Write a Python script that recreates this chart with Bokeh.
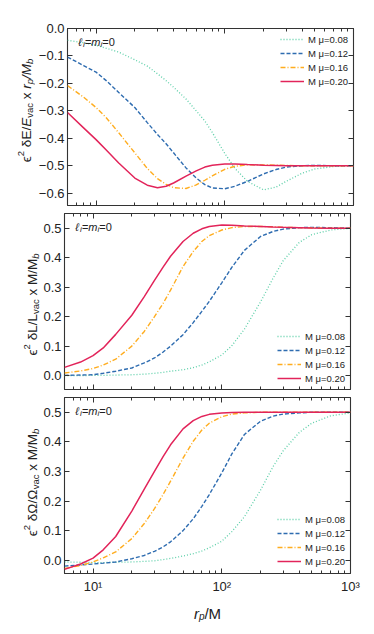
from math import pi
from bokeh.plotting import figure
from bokeh.models import (Label, Legend, LegendItem, LogAxis, LinearAxis, FixedTicker,
                          CustomJSTickFormatter, Range1d, Spacer)
from bokeh.layouts import column, row
from bokeh.embed import file_html
from bokeh.resources import INLINE

# ---------------- data ----------------
r_p = [6, 8, 10, 12, 15, 20, 25, 30, 35, 40, 50, 60, 70, 80, 100, 120, 150, 200, 250, 300, 400, 500, 700, 1000]
mu_labels = ["M \u03bc=0.08", "M \u03bc=0.12", "M \u03bc=0.16", "M \u03bc=0.20"]

dE_008 = [-0.043, -0.052, -0.061, -0.072, -0.086, -0.114, -0.137, -0.165, -0.19, -0.214, -0.257, -0.300, -0.337, -0.379, -0.455, -0.510, -0.557, -0.588, -0.578, -0.557, -0.527, -0.512, -0.503, -0.500]
dE_012 = [-0.104, -0.135, -0.159, -0.19, -0.233, -0.288, -0.343, -0.386, -0.420, -0.453, -0.508, -0.545, -0.569, -0.581, -0.584, -0.575, -0.557, -0.530, -0.514, -0.505, -0.500, -0.499, -0.500, -0.500]
dE_016 = [-0.208, -0.250, -0.288, -0.325, -0.380, -0.453, -0.510, -0.547, -0.568, -0.580, -0.583, -0.570, -0.553, -0.537, -0.513, -0.502, -0.497, -0.497, -0.498, -0.499, -0.500, -0.500, -0.500, -0.500]
dE_020 = [-0.306, -0.362, -0.405, -0.443, -0.490, -0.545, -0.571, -0.580, -0.575, -0.563, -0.538, -0.519, -0.505, -0.498, -0.494, -0.494, -0.496, -0.498, -0.499, -0.500, -0.500, -0.500, -0.500, -0.500]

dL_008 = [0.0, 0.0, 0.001, 0.001, 0.002, 0.003, 0.005, 0.008, 0.011, 0.015, 0.020, 0.027, 0.036, 0.047, 0.070, 0.102, 0.158, 0.250, 0.330, 0.390, 0.452, 0.478, 0.494, 0.500]
dL_012 = [0.001, 0.002, 0.003, 0.008, 0.015, 0.026, 0.043, 0.060, 0.080, 0.100, 0.139, 0.180, 0.218, 0.252, 0.315, 0.368, 0.425, 0.472, 0.489, 0.497, 0.502, 0.503, 0.502, 0.500]
dL_016 = [0.009, 0.016, 0.024, 0.036, 0.056, 0.100, 0.150, 0.200, 0.245, 0.290, 0.370, 0.421, 0.455, 0.475, 0.494, 0.502, 0.506, 0.506, 0.505, 0.503, 0.502, 0.501, 0.500, 0.500]
dL_020 = [0.028, 0.046, 0.068, 0.094, 0.140, 0.205, 0.268, 0.323, 0.368, 0.405, 0.455, 0.483, 0.498, 0.506, 0.511, 0.510, 0.508, 0.506, 0.504, 0.503, 0.502, 0.501, 0.500, 0.500]

dW_008 = [-0.006, -0.007, -0.008, -0.008, -0.007, -0.006, -0.004, -0.002, 0.002, 0.006, 0.014, 0.022, 0.031, 0.042, 0.064, 0.097, 0.147, 0.237, 0.316, 0.370, 0.432, 0.463, 0.488, 0.498]
dW_012 = [-0.020, -0.016, -0.013, -0.010, -0.006, 0.005, 0.016, 0.030, 0.045, 0.062, 0.100, 0.140, 0.182, 0.222, 0.295, 0.360, 0.425, 0.470, 0.487, 0.494, 0.498, 0.500, 0.500, 0.500]
dW_016 = [-0.028, -0.018, -0.006, 0.008, 0.028, 0.073, 0.124, 0.174, 0.222, 0.267, 0.345, 0.402, 0.440, 0.463, 0.485, 0.494, 0.498, 0.500, 0.500, 0.500, 0.500, 0.500, 0.500, 0.500]
dW_020 = [-0.031, -0.013, 0.007, 0.035, 0.080, 0.166, 0.240, 0.300, 0.350, 0.390, 0.444, 0.472, 0.486, 0.493, 0.498, 0.499, 0.500, 0.500, 0.500, 0.500, 0.500, 0.500, 0.500, 0.500]

x_major_ticks = [10, 100, 1000]
x_minor_ticks = [6, 7, 8, 9, 20, 30, 40, 50, 60, 70, 80, 90, 200, 300, 400, 500, 600, 700, 800, 900]
x_tick_labels = {10: "10\u00b9", 100: "10\u00b2", 1000: "10\u00b3"}
yticks_E = [0.0, -0.1, -0.2, -0.3, -0.4, -0.5, -0.6]
yticks_L = [0.0, 0.1, 0.2, 0.3, 0.4, 0.5]
yticks_W = [0.0, 0.1, 0.2, 0.3, 0.4, 0.5]

# ---------------- styling ----------------
FONT = "Liberation Sans"
COLORS = ["#5ccfa8", "#2e6cb0", "#ffad1f", "#e2245a"]
DASHES = ["1 2", "4 2", "5 2 1 2", "solid"]
WIDTHS = [1.3, 1.4, 1.4, 1.5]
FW = 286
AXC = "#333333"
TXT = "#222222"

EM = {' ': 0.278, 'x': 0.5, '/': 0.278, 'E': 0.667, 'L': 0.556, 'M': 0.833, 'r': 0.333,
      'p': 0.556, 'b': 0.556, 'v': 0.5, 'a': 0.556, 'c': 0.5, '2': 0.556, '0': 0.556,
      '=': 0.584, 'm': 0.833, 'i': 0.222, '\u03b4': 0.556, '\u03a9': 0.768, '\u03f5': 0.45,
      '\u2113': 0.42}


def tw(s, size):
    return sum(EM.get(c, 0.55) for c in s) * size


def lead(t):
    return t[:len(t) - len(t.lstrip())]


def add_vlabel(p, pieces, xb, yc):
    total = sum(tw(t, s) for t, s, st, dx in pieces)
    y = yc - total / 2
    for t, s, st, dx in pieces:
        p.add_layout(Label(x=xb + dx, y=y + tw(lead(t), s), x_units="screen", y_units="screen",
                           text=t.strip(), angle=pi / 2, text_font=FONT, text_font_size=f"{s}px",
                           text_font_style=st, text_align="left", text_baseline="alphabetic",
                           text_color=TXT))
        y += tw(t, s)


def add_hlabel(p, pieces, x0, yb, center=False):
    total = sum(tw(t, s) for t, s, st, dy in pieces)
    x = x0 - total / 2 if center else x0
    for t, s, st, dy in pieces:
        p.add_layout(Label(x=x + tw(lead(t), s), y=yb + dy, x_units="screen", y_units="screen",
                           text=t.strip(), text_font=FONT, text_font_size=f"{s}px",
                           text_font_style=st, text_align="left", text_baseline="alphabetic",
                           text_color=TXT))
        x += tw(t, s)


def style_axis(ax, show_labels):
    ax.axis_line_color = None
    ax.major_tick_in = 5
    ax.major_tick_out = 0
    ax.minor_tick_in = 3
    ax.minor_tick_out = 0
    ax.major_tick_line_color = AXC
    ax.minor_tick_line_color = AXC
    if show_labels:
        ax.major_label_text_font = FONT
        ax.major_label_text_font_size = "13px"
        ax.major_label_text_color = TXT
    else:
        ax.major_label_text_font_size = "1px"
        ax.major_label_text_alpha = 0
        ax.major_label_standoff = 0


yfmt = "return (tick < -1e-9 ? '\u2212' : '') + Math.abs(tick).toFixed(1);"


def blank(fw, fh, top_b=0, bot_b=0):
    b = figure(x_range=Range1d(0, 1), y_range=Range1d(0, 1), frame_width=fw, frame_height=fh,
               min_border_left=0, min_border_right=0, min_border_top=top_b, min_border_bottom=bot_b,
               x_axis_location=None, y_axis_location=None,
               output_backend="svg", toolbar_location=None)
    b.grid.visible = False
    b.outline_line_color = None
    return b


def make_panel(yr, yticks, series, fh, top_b, bot_b, left_b, xlabels, leg_loc):
    p = figure(x_axis_type="log", x_range=Range1d(6, 1000), y_range=Range1d(*yr),
               frame_width=FW, frame_height=fh, min_border_left=left_b, min_border_right=14,
               min_border_top=top_b, min_border_bottom=bot_b,
               output_backend="svg", toolbar_location=None)
    p.grid.visible = False
    p.outline_line_color = AXC
    p.outline_line_width = 1.1

    xa = p.xaxis[0]
    xa.ticker = FixedTicker(ticks=x_major_ticks, minor_ticks=x_minor_ticks)
    style_axis(xa, xlabels)
    if xlabels:
        xa.major_label_overrides = x_tick_labels
        xa.major_label_standoff = 5
    ya = p.yaxis[0]
    ya.ticker = FixedTicker(ticks=yticks)
    ya.formatter = CustomJSTickFormatter(code=yfmt)
    style_axis(ya, True)
    ya.major_label_standoff = 3

    top = LogAxis(ticker=FixedTicker(ticks=x_major_ticks, minor_ticks=x_minor_ticks))
    style_axis(top, False)
    p.add_layout(top, "above")
    right = LinearAxis(ticker=FixedTicker(ticks=yticks))
    style_axis(right, False)
    p.add_layout(right, "right")

    items = []
    for ys, lab, col, dash, w in zip(series, mu_labels, COLORS, DASHES, WIDTHS):
        r = p.line(r_p, ys, line_color=col, line_dash=dash, line_width=w)
        items.append(LegendItem(label=lab, renderers=[r]))
    leg = Legend(items=items, location=leg_loc, glyph_width=24, glyph_height=14,
                 label_height=14, label_standoff=4, spacing=0, padding=0, margin=0,
                 border_line_alpha=0, background_fill_alpha=0,
                 label_text_font=FONT, label_text_font_size="9.5px", label_text_color=TXT)
    p.add_layout(leg)

    add_hlabel(p, [("\u2113", 11, "italic", 0), ("i", 8, "italic", -3), ("=", 11, "normal", 0),
                   ("m", 11, "italic", 0), ("i", 8, "italic", -3), ("=0", 11, "normal", 0)],
               11, fh - 13)
    return p


p1 = make_panel((-0.645, 0.0), yticks_E, [dE_008, dE_012, dE_016, dE_020], 177, 28, 4, 29, False, (213, 117))
p2 = make_panel((-0.047, 0.55), yticks_L, [dL_008, dL_012, dL_016, dL_020], 176, 4, 4, 24, False, (213, 4))
p3 = make_panel((-0.045, 0.55), yticks_W, [dW_008, dW_012, dW_016, dW_020], 176, 4, 22, 24, True, (213, 5))

l1 = blank(35, 177, 28, 4)
l2 = blank(40, 176, 4, 4)
l3 = blank(40, 176, 4, 22)

S, s = 13.5, 9.5
add_vlabel(l1, [("\u03f5", S, "normal", 0), ("2", s, "normal", -6), (" \u03b4E/", S, "normal", 0),
                ("E", S, "italic", 0), ("vac", s, "normal", 3), (" x ", S, "normal", 0),
                ("r", S, "italic", 0), ("p", s, "italic", 3), ("/", S, "italic", 0),
                ("M", S, "italic", 0), ("b", s, "italic", 3)], 26, 95)
add_vlabel(l2, [("\u03f5", S, "normal", 0), ("2", s, "normal", -6), (" \u03b4L/L", S, "normal", 0),
                ("vac", s, "normal", 3), (" x M/M", S, "normal", 0), ("b", s, "italic", 3)], 32, 85)
add_vlabel(l3, [("\u03f5", S, "normal", 0), ("2", s, "normal", -6), (" \u03b4\u03a9/\u03a9", S, "normal", 0),
                ("vac", s, "normal", 3), (" x M/M", S, "normal", 0), ("b", s, "italic", 3)], 32, 91)

xl = blank(FW, 26)
add_hlabel(xl, [("r", 15, "italic", 0), ("p", 10, "italic", -3), ("/M", 15, "normal", 0)], FW / 2, 9, center=True)

layout = column(row(l1, p1), row(l2, p2), row(l3, p3), row(Spacer(width=64, height=26), xl), spacing=0)
open("out.html", "w").write(file_html(layout, INLINE))
